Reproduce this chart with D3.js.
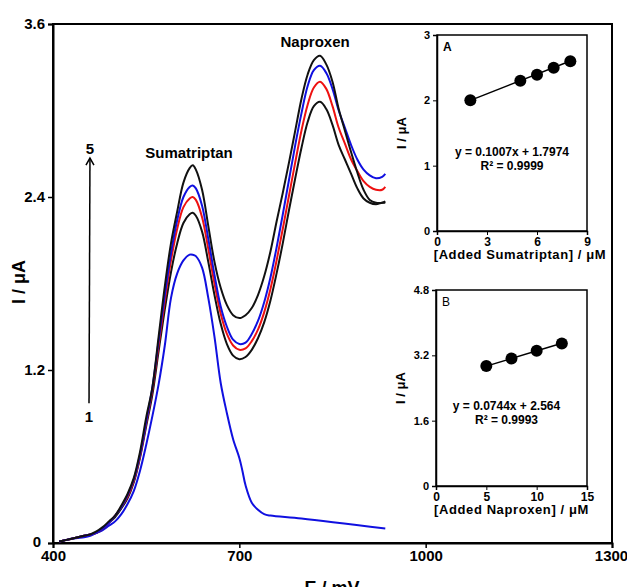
<!DOCTYPE html>
<html><head><meta charset="utf-8">
<script src="https://cdn.jsdelivr.net/npm/d3@7"></script>
<style>body{margin:0;background:#fff;} svg{display:block;font-family:"Liberation Sans",Arial,sans-serif;}</style>
</head><body>
<svg id="c" width="627" height="587"></svg>
<script>
// ---------- data ----------
const potentials = [410,420,430,440,450,460,470,480,490,500,510,520,530,540,550,560,570,580,590,600,610,620,625,630,640,650,660,670,680,690,700,710,720,730,740,750,760,770,780,790,800,810,820,830,840,850,860,870,880,890,900,910,920,930,935];
const curve5 = [0.01,0.02,0.03,0.04,0.05,0.06,0.08,0.11,0.15,0.19,0.26,0.34,0.45,0.63,0.87,1.08,1.43,1.78,2.08,2.30,2.50,2.60,2.62,2.59,2.45,2.20,1.95,1.77,1.65,1.58,1.56,1.58,1.63,1.72,1.85,2.02,2.23,2.43,2.64,2.86,3.08,3.25,3.35,3.38,3.32,3.20,3.01,2.86,2.71,2.57,2.45,2.38,2.36,2.36,2.37];
const curve4 = [0.01,0.02,0.03,0.04,0.05,0.06,0.07,0.10,0.14,0.19,0.25,0.33,0.44,0.61,0.84,1.08,1.40,1.72,2.01,2.24,2.40,2.47,2.48,2.46,2.34,2.11,1.86,1.64,1.50,1.41,1.38,1.39,1.45,1.54,1.67,1.84,2.05,2.28,2.52,2.76,2.98,3.17,3.28,3.31,3.26,3.15,3.00,2.88,2.76,2.66,2.59,2.55,2.53,2.54,2.56];
const curve3 = [0.01,0.02,0.03,0.04,0.05,0.06,0.07,0.10,0.14,0.19,0.25,0.32,0.43,0.60,0.83,1.06,1.37,1.68,1.96,2.18,2.33,2.39,2.40,2.38,2.26,2.04,1.80,1.59,1.45,1.37,1.34,1.35,1.40,1.48,1.60,1.76,1.96,2.18,2.41,2.64,2.86,3.04,3.16,3.20,3.15,3.03,2.88,2.77,2.66,2.58,2.51,2.47,2.45,2.45,2.47];
const curve2 = [0.01,0.02,0.03,0.04,0.05,0.06,0.07,0.10,0.14,0.18,0.24,0.31,0.42,0.59,0.81,1.03,1.33,1.62,1.88,2.08,2.22,2.28,2.29,2.27,2.16,1.95,1.72,1.52,1.38,1.30,1.275,1.29,1.34,1.42,1.53,1.68,1.87,2.08,2.31,2.53,2.74,2.92,3.03,3.06,3.01,2.90,2.76,2.66,2.56,2.46,2.39,2.36,2.35,2.36,2.36];
const potentials1 = [410,420,430,440,450,460,470,480,490,500,510,520,530,540,550,560,570,580,590,600,610,620,625,630,640,650,660,670,680,690,700,705,710,720,730,740,750,800,935];
const curve1 = [0.01,0.02,0.03,0.035,0.04,0.05,0.07,0.09,0.12,0.15,0.20,0.27,0.36,0.50,0.68,0.88,1.10,1.37,1.70,1.87,1.96,2.00,2.00,1.99,1.91,1.70,1.43,1.11,0.90,0.72,0.59,0.50,0.40,0.28,0.23,0.20,0.19,0.17,0.10];
const curveColors = ["#1010e0","#111111","#ee1111","#1010e0","#111111"];
const xTicksMain = [400,700,1000,1300];
const yTicksMain = [0,1.2,2.4,3.6];

const sumaConc = [2,5,6,7,8];
const sumaCurrent = [2.00,2.30,2.39,2.50,2.60];
const naproConc = [5,7.5,10,12.5];
const naproCurrent = [2.94,3.12,3.31,3.49];
const insetATicksX = [0,3,6,9], insetATicksY = [0,1,2,3];
const insetBTicksX = [0,5,10,15], insetBTicksY = [0,1.6,3.2,4.8];

// ---------- main chart ----------
const svg = d3.select("#c");
const x = d3.scaleLinear().domain([400,1300]).range([53,612]);
const y = d3.scaleLinear().domain([0,3.6]).range([543,24]);
const bold = "bold";

// frame
svg.append("rect").attr("x",53).attr("y",24).attr("width",612-53).attr("height",543-24)
  .attr("fill","none").attr("stroke","#000").attr("stroke-width",2);

const gx = svg.append("g").attr("transform","translate(0,543)")
  .call(d3.axisBottom(x).tickValues(xTicksMain).tickSize(5).tickPadding(2).tickFormat(d3.format("d")));
const gy = svg.append("g").attr("transform","translate(53,0)")
  .call(d3.axisLeft(y).tickValues(yTicksMain).tickSize(5).tickPadding(3).tickFormat(d => d===0?"0":d3.format(".1f")(d)));
[gx,gy].forEach(g=>{
  g.select(".domain").attr("stroke-width",2);
  g.selectAll(".tick line").attr("stroke-width",1.5);
  g.selectAll("text").attr("font-size",15).attr("font-weight",bold).attr("fill","#000")
    .attr("font-family","Liberation Sans, Arial, sans-serif");
});
gy.selectAll(".tick text").filter(d=>d===0).attr("dx",-4).attr("dy","0.25em");
gx.selectAll(".tick text").filter(d=>d===1300).attr("dx",-1);

const line = d3.line().curve(d3.curveCatmullRom.alpha(0.5));
const series = [
  {e:potentials1, i:curve1},
  {e:potentials, i:curve2},
  {e:potentials, i:curve3},
  {e:potentials, i:curve4},
  {e:potentials, i:curve5}
];
series.forEach((s,k)=>{
  svg.append("path")
    .attr("d", line(s.e.map((e,j)=>[x(e), y(s.i[j])])))
    .attr("fill","none").attr("stroke",curveColors[k]).attr("stroke-width",2);
});

// annotations
svg.append("text").attr("x",x(619)).attr("y",y(2.67)).attr("text-anchor","middle")
  .attr("font-size",15).attr("font-weight",bold).text("Sumatriptan");
svg.append("text").attr("x",x(822)).attr("y",y(3.44)).attr("text-anchor","middle")
  .attr("font-size",15).attr("font-weight",bold).text("Naproxen");
const ax = x(458), ax2 = x(459.5);
svg.append("line").attr("x1",ax).attr("y1",y(0.97)).attr("x2",ax2).attr("y2",y(2.67))
  .attr("stroke","#000").attr("stroke-width",1.5);
svg.append("path").attr("d",`M${ax2-4},${y(2.67)+7}L${ax2},${y(2.67)}L${ax2+4},${y(2.67)+7}`)
  .attr("fill","none").attr("stroke","#000").attr("stroke-width",1.5);
svg.append("text").attr("x",ax2).attr("y",y(2.7)).attr("text-anchor","middle")
  .attr("font-size",15).attr("font-weight",bold).text("5");
svg.append("text").attr("x",ax).attr("y",y(0.84)).attr("text-anchor","middle")
  .attr("font-size",15).attr("font-weight",bold).text("1");

svg.append("text").attr("transform","translate(25,282) rotate(-90)").attr("text-anchor","middle")
  .attr("font-size",18).attr("font-weight",bold).text("I / μA");
svg.append("text").attr("x",332).attr("y",594).attr("text-anchor","middle")
  .attr("font-size",18).attr("font-weight",bold).text("E / mV");

// ---------- insets ----------
function inset(o){
  const sx = d3.scaleLinear().domain(o.xd).range([o.l,o.r]);
  const sy = d3.scaleLinear().domain(o.yd).range([o.b,o.t]);
  svg.append("rect").attr("x",o.l).attr("y",o.t).attr("width",o.r-o.l).attr("height",o.b-o.t)
    .attr("fill","#fff").attr("stroke","#000").attr("stroke-width",1.5);
  const gxx = svg.append("g").attr("transform",`translate(0,${o.b})`)
    .call(d3.axisBottom(sx).tickValues(o.xt).tickSize(4).tickPadding(2).tickFormat(d3.format("d")));
  const gyy = svg.append("g").attr("transform",`translate(${o.l},0)`)
    .call(d3.axisLeft(sy).tickValues(o.yt).tickSize(4).tickPadding(3).tickFormat(o.yf));
  gxx.selectAll("text").attr("font-size",12).attr("font-weight",bold).attr("fill","#000").attr("font-family","Liberation Sans, Arial, sans-serif");
  gyy.selectAll("text").attr("font-size",11).attr("font-weight",bold).attr("fill","#000").attr("font-family","Liberation Sans, Arial, sans-serif");
  [gxx,gyy].forEach(g=>{g.select(".domain").attr("stroke-width",1.5);});
  // fit line
  const x0 = o.cx[0], x1 = o.cx[o.cx.length-1];
  svg.append("line").attr("x1",sx(x0)).attr("y1",sy(o.m*x0+o.c)).attr("x2",sx(x1)).attr("y2",sy(o.m*x1+o.c))
    .attr("stroke","#000").attr("stroke-width",1.5);
  svg.append("g").selectAll("circle").data(o.cx).join("circle")
    .attr("cx",d=>sx(d)).attr("cy",(d,j)=>sy(o.cy[j])).attr("r",6).attr("fill","#000");
  svg.append("text").attr("x",o.l+6).attr("y",o.t+16).attr("font-size",12).attr("font-weight",o.lw).text(o.tag);
  svg.append("text").attr("x",(o.l+o.r)/2+o.eqdx).attr("y",o.eqy).attr("text-anchor","middle")
    .attr("font-size",12).attr("font-weight",bold).text(o.eq);
  svg.append("text").attr("x",(o.l+o.r)/2+o.eqdx).attr("y",o.eqy+14).attr("text-anchor","middle")
    .attr("font-size",12).attr("font-weight",bold).text(o.r2);
  svg.append("text").attr("transform",`translate(${o.l-31},${(o.t+o.b)/2}) rotate(-90)`).attr("text-anchor","middle")
    .attr("font-size",13).attr("font-weight",bold).text("I / μA");
  svg.append("text").attr("x",(o.l+o.r)/2+o.xldx).attr("y",o.b+28).attr("text-anchor","middle")
    .attr("font-size",13).attr("font-weight",bold).attr("letter-spacing",0.6).text(o.xl);
}
inset({l:437,r:587,t:35,b:231,xd:[0,9],yd:[0,3],xt:insetATicksX,yt:insetATicksY,yf:d3.format("d"),
  cx:sumaConc,cy:sumaCurrent,m:0.1007,c:1.7974,tag:"A",lw:"bold",
  eq:"y = 0.1007x + 1.7974",r2:"R² = 0.9999",eqdx:0,eqy:156,xl:"[Added Sumatriptan] / μM",xldx:8});
inset({l:436,r:587,t:290,b:486,xd:[0,15],yd:[0,4.8],xt:insetBTicksX,yt:insetBTicksY,
  yf:d=>d===0?"0":d3.format(".1f")(d),
  cx:naproConc,cy:naproCurrent,m:0.0744,c:2.564,tag:"B",lw:"normal",
  eq:"y = 0.0744x + 2.564",r2:"R² = 0.9993",eqdx:-5,eqy:410,xl:"[Added Naproxen] / μM",xldx:0});
</script>
</body></html>
